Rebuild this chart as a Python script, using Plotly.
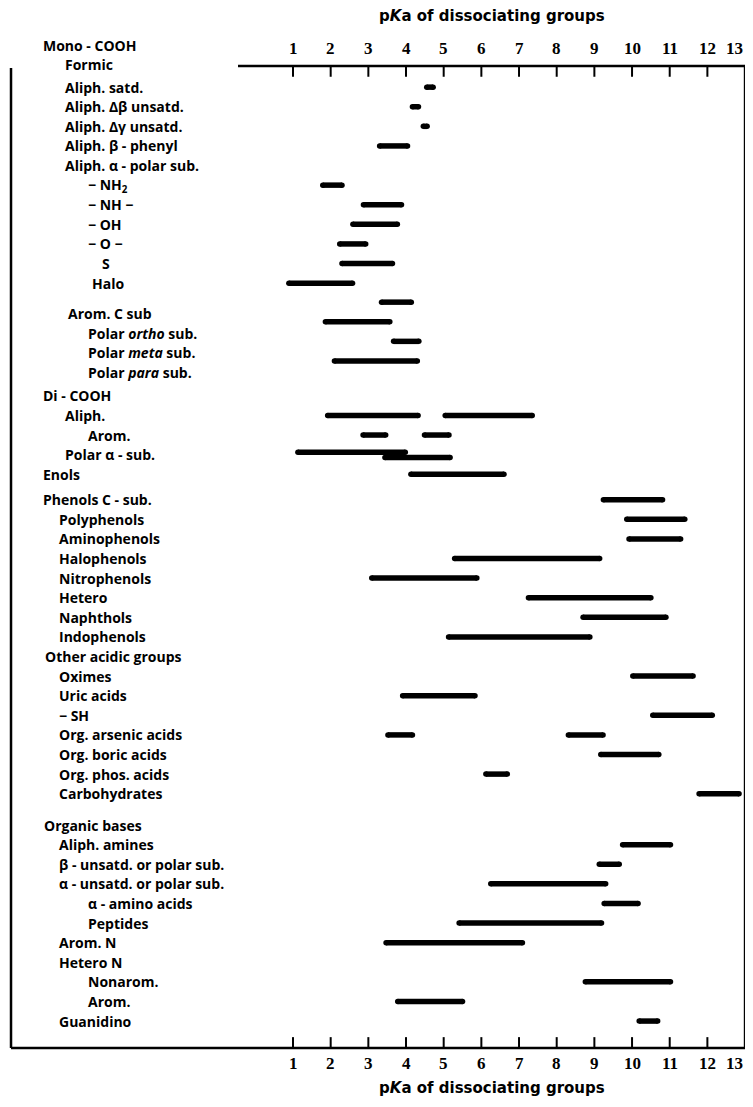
import plotly.graph_objects as go

# ---------------- data ----------------
labels = [
    "Mono - COOH", "Formic", "Aliph. satd.", "Aliph. Δβ unsatd.", "Aliph. Δγ unsatd.",
    "Aliph. β - phenyl", "Aliph. α - polar sub.", "− NH<sub>2</sub>", "− NH −", "− OH", "− O −",
    "S", "Halo",
    "Arom. C sub", "Polar <i>ortho</i> sub.", "Polar <i>meta</i> sub.", "Polar <i>para</i> sub.",
    "Di - COOH", "Aliph.", "Arom.", "Polar α - sub.", "Enols",
    "Phenols C - sub.", "Polyphenols", "Aminophenols", "Halophenols", "Nitrophenols",
    "Hetero", "Naphthols", "Indophenols",
    "Other acidic groups", "Oximes", "Uric acids", "− SH", "Org. arsenic acids",
    "Org. boric acids", "Org. phos. acids", "Carbohydrates",
    "Organic bases", "Aliph. amines", "β - unsatd. or polar sub.", "α - unsatd. or polar sub.",
    "α - amino acids", "Peptides", "Arom. N", "Hetero N", "Nonarom.", "Arom.", "Guanidino",
]

# pKa ranges: row index (into labels), low pKa, high pKa
bar_row = [2, 3, 4, 5, 7, 8, 9, 10, 11, 12,
           13, 14, 15, 16,
           18, 18, 19, 19, 20, 20, 21,
           22, 23, 24, 25, 26, 27, 28, 29,
           31, 32, 33, 34, 34, 35, 36, 37,
           39, 40, 41, 42, 43, 44, 46, 47, 48]
bar_low = [4.55, 4.17, 4.46, 3.30, 1.79, 2.87, 2.59, 2.24, 2.30, 0.89,
           3.35, 1.86, 3.67, 2.10,
           1.92, 5.04, 2.86, 4.49, 1.13, 3.44, 4.13,
           9.24, 9.86, 9.92, 5.29, 3.09, 7.25, 8.70, 5.13,
           10.02, 3.91, 10.55, 3.52, 8.31, 9.17, 6.12, 11.78,
           9.75, 9.13, 6.25, 9.26, 5.41, 3.47, 8.76, 3.78, 10.19]
bar_high = [4.72, 4.33, 4.56, 4.04, 2.30, 3.88, 3.77, 2.93, 3.64, 2.58,
            4.14, 3.57, 4.34, 4.30,
            4.32, 7.35, 3.46, 5.14, 3.98, 5.17, 6.60,
            10.81, 11.40, 11.29, 9.14, 5.88, 10.50, 10.90, 8.88,
            11.62, 5.83, 12.13, 4.17, 9.23, 10.71, 6.69, 12.84,
            11.02, 9.66, 9.30, 10.16, 9.19, 7.09, 11.02, 5.50, 10.68]

tick_values = list(range(1, 14))
tick_text = [str(v) for v in tick_values]
axis_title = "p<i>K</i>a of dissociating groups"

# ---------------- layout helpers ----------------
indent = [0, 1, 1, 1, 1, 1, 1, 2, 2, 2, 2, 3, 2.3,
          1.15, 2, 2, 2,
          0, 1, 2, 1, 0,
          0, 0.75, 0.75, 0.75, 0.75, 0.75, 0.75, 0.75,
          0.1, 0.75, 0.75, 0.75, 0.75, 0.75, 0.75, 0.75,
          0.05, 0.75, 0.75, 0.75, 2, 2, 0.75, 0.75, 2, 2, 0.75]
indent_x = {0: -5.69, 1: -5.11, 2: -4.50, 3: -4.12}


def level_x(lv):
    lo = int(lv)
    hi = min(lo + 1, 3)
    f = lv - lo
    return indent_x[lo] + (indent_x[hi] - indent_x[lo]) * f


gap_before = {2: 0.15, 13: 0.55, 17: 0.2, 22: 0.3, 38: 0.6}
row_pos = []
acc = 0.0
for i in range(len(labels)):
    acc += gap_before.get(i, 0.0)
    row_pos.append(i + acc)

row_shift = {13: -0.58, 14: -0.58, 15: -0.58, 16: -0.58}
overlap_nudge = {(20, 0): -0.12, (20, 1): 0.15}

# the page body adds an 8px margin; the figure fills the rest of the window
FIG_W, FIG_H = 745, 1091
X_RANGE = [-6.566, 13.211]
Y_RANGE = [53.776, -1.888]

xs, ys, mx, my = [], [], [], []
seen = {}
for r, lo, hi in zip(bar_row, bar_low, bar_high):
    k = seen.get(r, 0)
    seen[r] = k + 1
    y = row_pos[r] + row_shift.get(r, 0.0) + overlap_nudge.get((r, k), 0.0)
    xs += [lo, hi, None]
    ys += [y, y, None]
    mx += [lo, hi]
    my += [y, y]

fig = go.Figure()
fig.add_trace(go.Scatter(x=xs, y=ys, mode="lines",
                         line=dict(color="black", width=5.5),
                         hoverinfo="skip", showlegend=False))
fig.add_trace(go.Scatter(x=mx, y=my, mode="markers",
                         marker=dict(color="black", size=5.5, line=dict(width=0)),
                         hoverinfo="skip", showlegend=False))

LABEL_FONT = dict(family="Open Sans", size=14, color="black")
annotations = []
for i, lab in enumerate(labels):
    annotations.append(dict(x=level_x(indent[i]), y=row_pos[i], xref="x", yref="y",
                            text="<b>" + lab + "</b>", showarrow=False,
                            xanchor="left", yanchor="middle", font=LABEL_FONT))

TOP_Y = 1.07
BOT_Y = 51.17
LEFT_X = -6.486
RIGHT_X = 13.0
TOP_START_X = -0.46
TICK_LEN = 0.55

shapes = []
line_style = dict(color="black", width=2.5)
shapes.append(dict(type="line", xref="x", yref="y", x0=TOP_START_X, x1=RIGHT_X,
                   y0=TOP_Y, y1=TOP_Y, line=line_style))
shapes.append(dict(type="line", xref="x", yref="y", x0=LEFT_X, x1=RIGHT_X,
                   y0=BOT_Y, y1=BOT_Y, line=line_style))
shapes.append(dict(type="line", xref="x", yref="y", x0=LEFT_X, x1=LEFT_X,
                   y0=TOP_Y + 0.1, y1=BOT_Y, line=line_style))
shapes.append(dict(type="line", xref="x", yref="y", x0=RIGHT_X, x1=RIGHT_X,
                   y0=TOP_Y, y1=BOT_Y, line=line_style))
for v in tick_values[:-1]:
    shapes.append(dict(type="line", xref="x", yref="y", x0=v, x1=v,
                       y0=TOP_Y, y1=TOP_Y + TICK_LEN, line=dict(color="black", width=2)))
    shapes.append(dict(type="line", xref="x", yref="y", x0=v, x1=v,
                       y0=BOT_Y, y1=BOT_Y - TICK_LEN, line=dict(color="black", width=2)))

TICK_FONT = dict(family="Liberation Serif", size=17, color="black")
for v, t in zip(tick_values, tick_text):
    last = v == tick_values[-1]
    for ty in (0.2, 51.99):
        annotations.append(dict(x=v, y=ty, xref="x", yref="y", text="<b>" + t + "</b>",
                                showarrow=False, xanchor="right" if last else "center",
                                yanchor="middle", xshift=0,
                                font=TICK_FONT))

TITLE_FONT = dict(family="DejaVu Sans", size=15, color="black")
for ty in (-1.48, 53.2):
    annotations.append(dict(x=6.28, y=ty, xref="x", yref="y", text="<b>" + axis_title + "</b>",
                            showarrow=False, xanchor="center", yanchor="middle",
                            font=TITLE_FONT))

fig.update_layout(
    width=FIG_W, height=FIG_H,
    margin=dict(l=0, r=0, t=0, b=0),
    paper_bgcolor="white", plot_bgcolor="white",
    xaxis=dict(visible=False, range=X_RANGE, fixedrange=True),
    yaxis=dict(visible=False, range=Y_RANGE, fixedrange=True),
    shapes=shapes, annotations=annotations, showlegend=False,
)

fig.write_html("out.html")
